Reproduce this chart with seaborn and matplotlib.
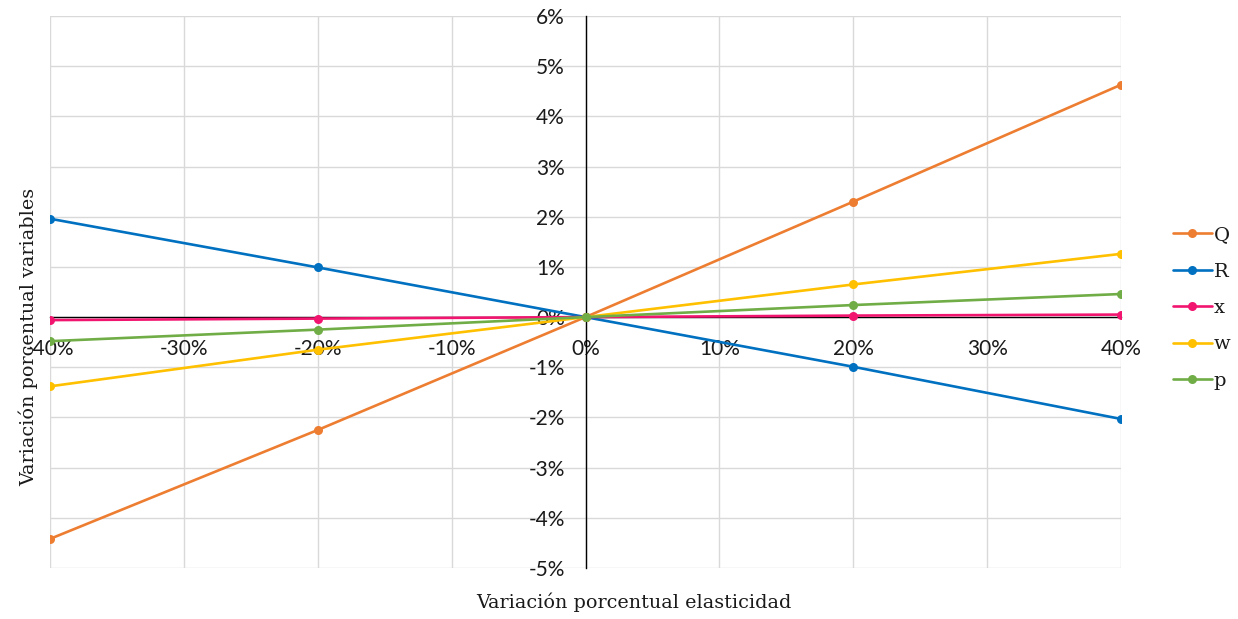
import matplotlib
matplotlib.use("Agg")
import matplotlib.pyplot as plt
from matplotlib.lines import Line2D
from matplotlib.ticker import PercentFormatter, MultipleLocator
import pandas as pd
import seaborn as sns

# Percentage change in the elasticity (x axis)
elasticidad = [-40, -20, 0, 20, 40]

# Percentage change of each variable (y axis)
serie_Q = [-4.42, -2.25, 0.0, 2.30, 4.63]
serie_R = [1.96, 0.99, 0.0, -0.99, -2.03]
serie_x = [-0.06, -0.03, 0.0, 0.03, 0.05]
serie_w = [-1.38, -0.65, 0.0, 0.65, 1.26]
serie_p = [-0.48, -0.25, 0.0, 0.24, 0.46]

nombres = ["Q", "R", "x", "w", "p"]
colores = {"Q": "#ED7D31", "R": "#0070C0", "x": "#F2156F", "w": "#FFC000", "p": "#70AD47"}

valores = {"Q": serie_Q, "R": serie_R, "x": serie_x, "w": serie_w, "p": serie_p}
df = pd.DataFrame(
    [(e, v, n) for n in nombres for e, v in zip(elasticidad, valores[n])],
    columns=["elasticidad", "valor", "variable"],
)

sns.set_theme(style="white")
plt.rcParams["font.family"] = ["Lato", "DejaVu Sans"]
plt.rcParams["axes.unicode_minus"] = False

fig = plt.figure(figsize=(12.38, 6.19), dpi=100)
ax = fig.add_axes([50 / 1238, 1 - 568 / 619, 1071 / 1238, 552 / 619])

sns.lineplot(
    data=df, x="elasticidad", y="valor", hue="variable", hue_order=nombres,
    palette=colores, marker="o", markersize=6.5, markeredgewidth=0,
    linewidth=1.9, legend=False, ax=ax, zorder=3,
)

ax.set_xlim(-40, 40)
ax.set_ylim(-5, 6)
ax.xaxis.set_major_locator(MultipleLocator(10))
ax.yaxis.set_major_locator(MultipleLocator(1))
ax.xaxis.set_major_formatter(PercentFormatter(100, decimals=0))
ax.yaxis.set_major_formatter(PercentFormatter(100, decimals=0))

ax.grid(True, color="#D9D9D9", linewidth=1.0)
ax.set_axisbelow(True)

for s in ["top", "right"]:
    ax.spines[s].set_visible(False)
ax.spines["left"].set_position(("data", 0))
ax.spines["bottom"].set_position(("data", 0))
for s in ["left", "bottom"]:
    ax.spines[s].set_color("black")
    ax.spines[s].set_linewidth(1.0)
    ax.spines[s].set_zorder(2.5)

ax.tick_params(axis="x", length=0, pad=16, labelsize=15, colors="#1a1a1a")
ax.tick_params(axis="y", length=0, pad=15, labelsize=15, colors="#1a1a1a")

serif = ["DejaVu Serif"]
ax.set_xlabel("Variación porcentual elasticidad", family=serif, fontsize=13.8, color="#1a1a1a")
ax.set_ylabel("Variación porcentual variables", family=serif, fontsize=13.8, color="#1a1a1a")
ax.xaxis.set_label_coords(0.545, -0.044)
ax.yaxis.set_label_coords(-0.011, 0.418)

handles = [
    Line2D([], [], color=colores[n], marker="o", markersize=6.5, markeredgewidth=0, linewidth=1.9)
    for n in nombres
]
leg = fig.legend(
    handles, nombres, loc="center left", bbox_to_anchor=(1163 / 1238, 1 - 308 / 619),
    frameon=False, handlelength=2.0, handletextpad=0.1, labelspacing=0.95,
    borderpad=0, prop={"family": serif, "size": 14},
)
for t in leg.get_texts():
    t.set_color("#1a1a1a")

fig.savefig("out.png", dpi=100, facecolor="white")
